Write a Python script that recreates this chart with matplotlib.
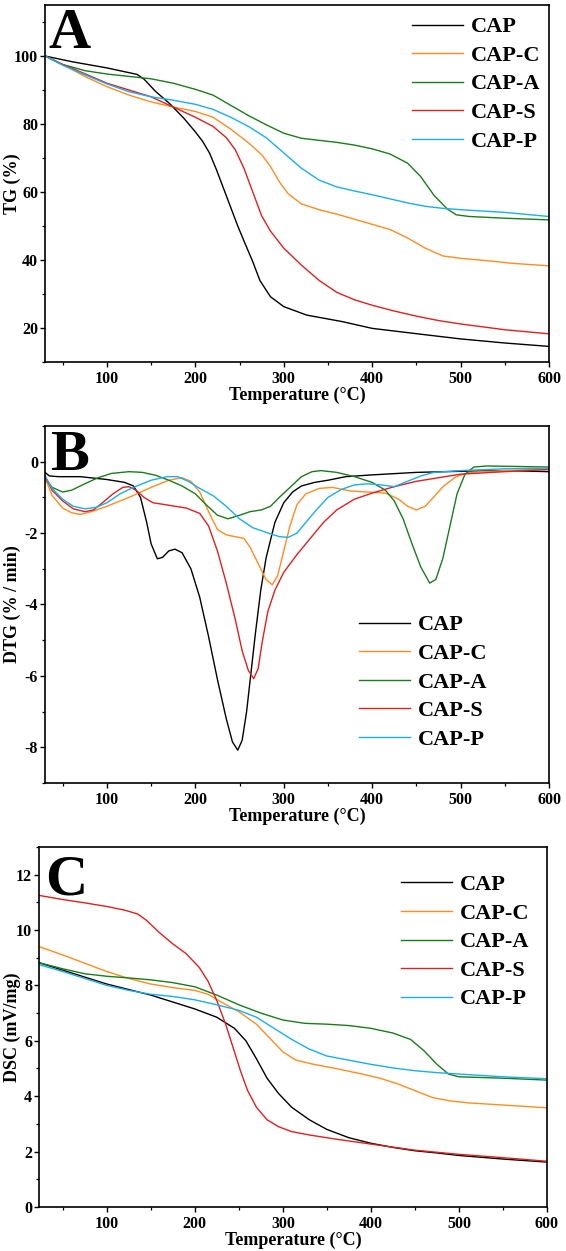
import matplotlib
matplotlib.use("Agg")
import matplotlib.pyplot as plt
from matplotlib.ticker import MultipleLocator

plt.rcParams['font.family'] = ['Liberation Serif', 'DejaVu Serif']
plt.rcParams['font.weight'] = 'bold'
plt.rcParams['axes.labelweight'] = 'bold'
plt.rcParams['axes.unicode_minus'] = False

names = ['CAP', 'CAP-C', 'CAP-A', 'CAP-S', 'CAP-P']
colors = ['#000000', '#ff8c21', '#1b7c1b', '#e0201e', '#1aaeee']

# ---- A: TG ----
tg_cap_x = [30, 61, 100, 134, 142, 155, 171, 187, 200, 208, 216, 224, 232, 240, 248, 256, 265, 273, 285, 300, 326, 366, 400, 448, 500, 550, 600]
tg_cap_y = [100, 98.3, 96.5, 94.6, 93.2, 89.6, 86, 81.7, 77.7, 75, 71.5, 66.5, 61, 55.5, 50, 45, 39.5, 34, 29.2, 26.3, 23.8, 21.9, 19.9, 18.4, 16.8, 15.6, 14.6]
tg_c_x = [30, 50, 75, 100, 125, 150, 175, 200, 220, 240, 260, 275, 285, 295, 305, 320, 340, 360, 380, 400, 420, 440, 460, 480, 500, 530, 560, 600]
tg_c_y = [100, 97.5, 94, 91, 88.5, 86.5, 85, 83.7, 82, 78.5, 74.5, 71, 67.5, 63, 59.5, 56.5, 54.8, 53.5, 52, 50.5, 49, 46.5, 43.5, 41.2, 40.5, 39.8, 39, 38.3]
tg_a_x = [30, 50, 75, 100, 125, 150, 175, 200, 220, 240, 260, 280, 300, 320, 340, 360, 380, 400, 420, 440, 455, 470, 485, 495, 510, 550, 600]
tg_a_y = [100, 97.5, 95.7, 94.7, 94, 93.3, 92, 90.2, 88.5, 85.5, 82.5, 79.8, 77.3, 75.8, 75.2, 74.6, 73.8, 72.7, 71.2, 68.5, 64.5, 59, 55, 53.3, 52.8, 52.3, 51.8]
tg_s_x = [30, 50, 75, 100, 125, 150, 175, 200, 220, 235, 245, 255, 265, 275, 285, 300, 320, 340, 360, 380, 400, 425, 450, 475, 500, 550, 600]
tg_s_y = [100, 97.5, 94.8, 92, 90, 88, 85, 82, 79.3, 76, 72.5, 67, 60, 53, 48.5, 43.5, 38.5, 34, 30.5, 28.3, 26.7, 25, 23.5, 22.2, 21.2, 19.5, 18.3]
tg_p_x = [30, 50, 75, 100, 125, 150, 175, 200, 220, 240, 260, 280, 300, 320, 340, 360, 380, 400, 420, 440, 460, 480, 500, 550, 600]
tg_p_y = [100, 97.3, 94.5, 91.8, 89.5, 88, 87, 85.8, 84.3, 82, 79.3, 76, 71.5, 67, 63.5, 61.5, 60.3, 59.2, 58, 56.8, 55.8, 55.2, 54.8, 54, 52.8]

# ---- B: DTG ----
dtg_cap_x = [30, 35, 45, 70, 100, 120, 130, 138, 145, 150, 157, 163, 170, 177, 185, 195, 205, 215, 225, 235, 242, 248, 253, 258, 263, 268, 274, 280, 290, 300, 310, 320, 335, 350, 370, 400, 450, 500, 550, 600]
dtg_cap_y = [-0.3, -0.4, -0.42, -0.42, -0.5, -0.58, -0.68, -1.0, -1.7, -2.3, -2.72, -2.68, -2.5, -2.45, -2.55, -3.0, -3.8, -4.9, -6.1, -7.2, -7.85, -8.08, -7.8, -7.0, -5.9, -4.8, -3.6, -2.7, -1.7, -1.15, -0.85, -0.68, -0.58, -0.52, -0.42, -0.37, -0.3, -0.27, -0.25, -0.28]
dtg_c_x = [30, 38, 50, 60, 70, 85, 100, 125, 150, 170, 185, 195, 205, 215, 225, 235, 245, 255, 262, 270, 280, 287, 293, 300, 307, 315, 325, 340, 355, 375, 395, 415, 430, 440, 450, 460, 470, 480, 495, 510, 550, 600]
dtg_c_y = [-0.45, -0.95, -1.3, -1.43, -1.48, -1.38, -1.25, -1.0, -0.72, -0.52, -0.45, -0.55, -0.85, -1.4, -1.9, -2.05, -2.1, -2.15, -2.4, -2.8, -3.3, -3.45, -3.2, -2.5, -1.8, -1.2, -0.9, -0.75, -0.72, -0.82, -0.85, -0.88, -1.05, -1.25, -1.35, -1.25, -0.98, -0.7, -0.42, -0.3, -0.25, -0.2]
dtg_a_x = [30, 38, 50, 60, 75, 90, 105, 125, 140, 155, 170, 185, 200, 212, 225, 237, 250, 262, 275, 285, 295, 308, 320, 332, 342, 360, 380, 400, 415, 425, 435, 445, 455, 465, 472, 480, 488, 496, 505, 515, 530, 600]
dtg_a_y = [-0.45, -0.72, -0.85, -0.8, -0.62, -0.45, -0.33, -0.28, -0.3, -0.38, -0.52, -0.68, -0.9, -1.2, -1.5, -1.6, -1.5, -1.4, -1.35, -1.25, -1.0, -0.7, -0.42, -0.28, -0.25, -0.3, -0.42, -0.58, -0.8, -1.1, -1.6, -2.3, -2.95, -3.4, -3.3, -2.7, -1.8, -0.9, -0.35, -0.15, -0.12, -0.15]
dtg_s_x = [30, 38, 50, 62, 75, 85, 95, 107, 118, 125, 133, 142, 152, 170, 190, 205, 215, 225, 235, 245, 253, 260, 266, 271, 276, 282, 290, 300, 315, 330, 345, 360, 380, 400, 425, 450, 475, 500, 550, 600]
dtg_s_y = [-0.4, -0.8, -1.1, -1.32, -1.4, -1.35, -1.15, -0.9, -0.72, -0.7, -0.8, -1.0, -1.15, -1.22, -1.3, -1.45, -1.8, -2.5, -3.4, -4.4, -5.3, -5.85, -6.08, -5.8, -5.0, -4.2, -3.6, -3.1, -2.6, -2.15, -1.7, -1.35, -1.05, -0.88, -0.7, -0.55, -0.45, -0.35, -0.28, -0.22]
dtg_p_x = [30, 38, 50, 62, 75, 88, 100, 115, 130, 150, 168, 180, 192, 205, 220, 235, 250, 265, 280, 295, 305, 315, 325, 337, 350, 365, 380, 395, 410, 425, 440, 455, 470, 500, 550, 600]
dtg_p_y = [-0.4, -0.75, -1.05, -1.25, -1.32, -1.28, -1.15, -0.9, -0.72, -0.52, -0.42, -0.42, -0.55, -0.75, -0.95, -1.25, -1.6, -1.85, -1.98, -2.1, -2.12, -2.0, -1.7, -1.35, -1.0, -0.78, -0.65, -0.62, -0.65, -0.7, -0.55, -0.4, -0.3, -0.25, -0.2, -0.18]

# ---- C: DSC ----
dsc_cap_x = [23, 50, 75, 100, 125, 150, 175, 200, 225, 245, 258, 270, 282, 295, 310, 330, 350, 375, 400, 425, 450, 475, 500, 550, 600]
dsc_cap_y = [8.82, 8.55, 8.3, 8.05, 7.85, 7.65, 7.4, 7.15, 6.85, 6.45, 6.0, 5.35, 4.65, 4.1, 3.6, 3.15, 2.8, 2.5, 2.3, 2.15, 2.03, 1.95, 1.86, 1.73, 1.62]
dsc_c_x = [23, 50, 75, 100, 125, 150, 175, 200, 215, 230, 250, 270, 285, 300, 315, 335, 360, 390, 410, 430, 450, 470, 490, 510, 550, 600]
dsc_c_y = [9.4, 9.1, 8.8, 8.5, 8.25, 8.05, 7.92, 7.82, 7.68, 7.4, 7.05, 6.6, 6.1, 5.6, 5.3, 5.15, 5.0, 4.8, 4.65, 4.45, 4.2, 3.95, 3.83, 3.76, 3.68, 3.58]
dsc_a_x = [23, 50, 75, 100, 125, 150, 175, 200, 225, 250, 275, 300, 325, 350, 375, 400, 425, 445, 460, 475, 488, 500, 550, 600]
dsc_a_y = [8.82, 8.6, 8.42, 8.33, 8.27, 8.2, 8.1, 7.95, 7.65, 7.3, 7.0, 6.75, 6.63, 6.6, 6.55, 6.45, 6.28, 6.05, 5.65, 5.15, 4.8, 4.7, 4.65, 4.58]
dsc_s_x = [23, 50, 75, 100, 120, 135, 145, 160, 175, 190, 205, 215, 225, 235, 243, 252, 260, 270, 282, 295, 310, 330, 360, 400, 450, 500, 550, 600]
dsc_s_y = [11.25, 11.1, 10.98, 10.85, 10.72, 10.58, 10.35, 9.9, 9.5, 9.15, 8.65, 8.15, 7.45, 6.6, 5.8, 4.9, 4.2, 3.6, 3.15, 2.9, 2.72, 2.6, 2.45, 2.27, 2.05, 1.9, 1.78, 1.65]
dsc_p_x = [23, 50, 75, 100, 125, 150, 175, 200, 225, 250, 270, 290, 310, 330, 350, 375, 400, 425, 450, 475, 500, 550, 600]
dsc_p_y = [8.75, 8.5, 8.25, 8.0, 7.82, 7.68, 7.6, 7.48, 7.3, 7.1, 6.85, 6.45, 6.05, 5.7, 5.45, 5.3, 5.15, 5.02, 4.92, 4.85, 4.8, 4.7, 4.63]


def draw_panel(ax, series, letter, ylabel, xlim, ylim, ymajor, yminor, leg_pos, letter_pos, ylab_x):
    for (x, y), name, c in zip(series, names, colors):
        ax.plot(x, y, color=c, lw=1.0, label=name)
    ax.set_xlim(*xlim)
    ax.set_ylim(*ylim)
    ax.xaxis.set_major_locator(MultipleLocator(100))
    ax.xaxis.set_minor_locator(MultipleLocator(50))
    ax.yaxis.set_major_locator(MultipleLocator(ymajor))
    ax.yaxis.set_minor_locator(MultipleLocator(yminor))
    ax.tick_params(which='major', direction='out', length=3.5, width=1.0, labelsize=11.5)
    ax.tick_params(which='minor', direction='out', length=2, width=0.9)
    ax.tick_params(axis='y', pad=1.5)
    ax.tick_params(axis='x', pad=3)
    for s in ax.spines.values():
        s.set_linewidth(1.2)
    ax.set_xlabel("Temperature (\u00b0C)", fontsize=13, labelpad=0)
    ax.set_ylabel(ylabel, fontsize=13)
    # label anchor is its right edge once rotated
    ax.yaxis.set_label_coords(ylab_x, 0.5)
    ax.text(letter_pos[0], letter_pos[1], letter, transform=ax.transAxes,
            fontsize=42, fontweight='bold', va='baseline', ha='left')
    ax.legend(loc='upper left', bbox_to_anchor=leg_pos, frameon=False, fontsize=16,
              handlelength=2.3, handletextpad=0.35, labelspacing=0.36, borderpad=0,
              borderaxespad=0)


fig = plt.figure(figsize=(5.66, 12.51), dpi=100)
ax_a = fig.add_axes([0.0795, 0.7106, 0.8905, 0.2854])
ax_b = fig.add_axes([0.0795, 0.3741, 0.8905, 0.2854])
ax_c = fig.add_axes([0.0689, 0.0352, 0.8975, 0.2878])

draw_panel(ax_a, [(tg_cap_x, tg_cap_y), (tg_c_x, tg_c_y), (tg_a_x, tg_a_y), (tg_s_x, tg_s_y), (tg_p_x, tg_p_y)],
           'A', 'TG (%)', (30, 600), (10, 115), 20, 10, (0.728, 0.967), (0.006, 0.88), -0.048)
draw_panel(ax_b, [(dtg_cap_x, dtg_cap_y), (dtg_c_x, dtg_c_y), (dtg_a_x, dtg_a_y), (dtg_s_x, dtg_s_y), (dtg_p_x, dtg_p_y)],
           'B', 'DTG (% / min)', (30, 600), (-9, 1), 2, 1, (0.623, 0.471), (0.01, 0.877), -0.048)
draw_panel(ax_c, [(dsc_cap_x, dsc_cap_y), (dsc_c_x, dsc_c_y), (dsc_a_x, dsc_a_y), (dsc_s_x, dsc_s_y), (dsc_p_x, dsc_p_y)],
           'C', 'DSC (mV/mg)', (23, 600), (0, 13), 2, 1, (0.713, 0.923), (0.012, 0.869), -0.036)

fig.savefig('out.png', dpi=100)
